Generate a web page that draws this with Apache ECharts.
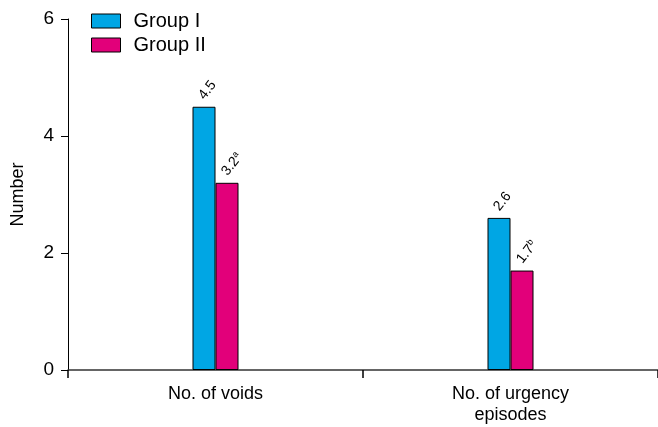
<!DOCTYPE html>
<html>
<head>
<meta charset="utf-8">
<script src="https://cdn.jsdelivr.net/npm/echarts@6/dist/echarts.min.js"></script>
<style>
html,body{margin:0;padding:0;background:#fff;}
#chart{width:658px;height:427px;}
</style>
</head>
<body>
<div id="chart"></div>
<script>
// Mean counts per group
const categories = ['No. of voids', 'No. of urgency\nepisodes'];
const groupI = [4.5, 2.6];
const groupII = [3.2, 1.7];
const groupIINotes = ['a', 'b'];
const yTicks = [0, 2, 4, 6];

const font = 'Liberation Sans, Arial, Helvetica, sans-serif';

// Rotated value label, with an optional superscript note
function labelOpt(notes) {
  return {
    show: true,
    position: 'top',
    rotate: 52,
    align: 'left',
    verticalAlign: 'middle',
    distance: 12,
    offset: [-4, 0],
    fontFamily: font,
    fontSize: 14,
    color: '#000',
    formatter: function (p) {
      const note = notes ? notes[p.dataIndex] : '';
      return '{v|' + p.value.toFixed(1) + '}' + (note ? '{s|' + note + '}' : '');
    },
    rich: {
      v: { fontSize: 14, fontFamily: font, color: '#000', lineHeight: 16 },
      s: { fontSize: 9, fontFamily: font, color: '#000', verticalAlign: 'top', lineHeight: 16 }
    }
  };
}

const chart = echarts.init(document.getElementById('chart'));
chart.setOption({
  animation: false,
  grid: { left: 68, top: 19, width: 594, height: 351, containLabel: false },
  legend: {
    left: 86,
    top: 6,
    orient: 'vertical',
    icon: 'rect',
    itemWidth: 29,
    itemHeight: 14,
    itemGap: 4,
    itemStyle: { borderColor: '#000', borderWidth: 1 },
    textStyle: { fontFamily: font, fontSize: 20, lineHeight: 20, color: '#000', padding: [0, 0, 0, 8] },
    data: ['Group I', 'Group II']
  },
  xAxis: {
    type: 'category',
    data: categories,
    axisLine: { lineStyle: { color: '#333', width: 1.5 } },
    axisTick: { show: true, length: 8, lineStyle: { color: '#000', width: 1.5 } },
    axisLabel: { fontFamily: font, fontSize: 18, color: '#000', margin: 14, lineHeight: 21 }
  },
  yAxis: {
    type: 'value',
    min: yTicks[0],
    max: yTicks[yTicks.length - 1],
    interval: 2,
    name: 'Number',
    nameLocation: 'middle',
    nameGap: 41,
    nameTextStyle: { fontFamily: font, fontSize: 18, color: '#000' },
    splitLine: { show: false },
    axisLine: { show: true, lineStyle: { color: '#000', width: 1 } },
    axisTick: { show: true, length: 7, lineStyle: { color: '#000' } },
    axisLabel: { fontFamily: font, fontSize: 19, color: '#000', margin: 14 }
  },
  series: [
    {
      name: 'Group I',
      type: 'bar',
      data: groupI,
      barWidth: 23,
      barGap: '0%',
      itemStyle: { color: '#00a6e4', borderColor: '#000', borderWidth: 1 },
      label: labelOpt(null)
    },
    {
      name: 'Group II',
      type: 'bar',
      data: groupII,
      barWidth: 23,
      itemStyle: { color: '#e2007a', borderColor: '#000', borderWidth: 1 },
      label: labelOpt(groupIINotes)
    }
  ]
});
</script>
</body>
</html>
